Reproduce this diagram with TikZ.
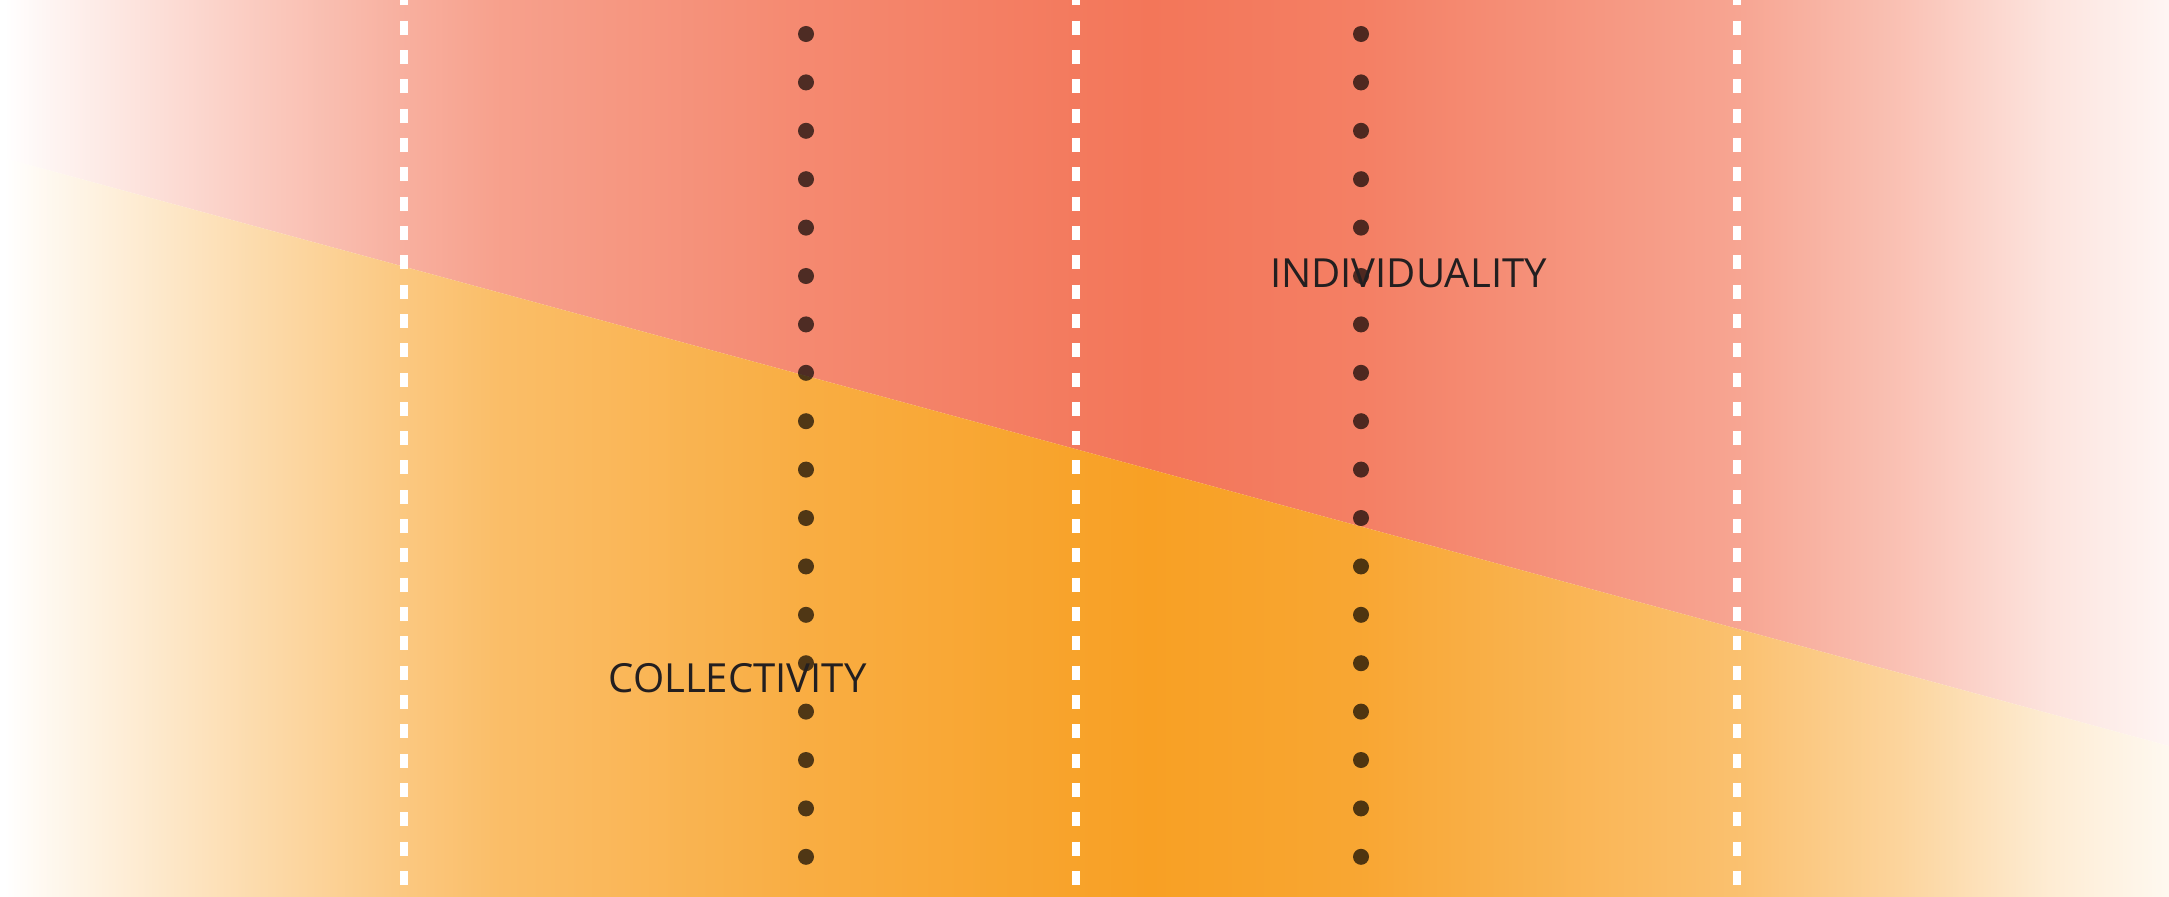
\documentclass[tikz,border=0pt]{standalone}
\usepackage{fontspec}
\setmainfont{Open Sans}
\definecolor{mSalmon}{HTML}{F37659}
\definecolor{mAmber}{HTML}{F8A024}
\definecolor{mInk}{HTML}{231F20}
\pgfdeclarehorizontalshading{salmonfade}{100bp}{color(0bp)=(white); color(25.1bp)=(white);
  color(26.2bp)=(mSalmon!8!white); color(27.3bp)=(mSalmon!15!white); color(30.75bp)=(mSalmon!37!white); color(34.3bp)=(mSalmon!58!white);
  color(36.5bp)=(mSalmon!69!white); color(43.5bp)=(mSalmon!86!white); color(51.5bp)=(mSalmon);
  color(56.5bp)=(mSalmon!93!white); color(65bp)=(mSalmon!66!white); color(68.8bp)=(mSalmon!45!white);
  color(72.25bp)=(mSalmon!20!white); color(75bp)=(mSalmon!7!white); color(100bp)=(mSalmon!7!white)}
\pgfdeclarehorizontalshading{amberfade}{100bp}{color(0bp)=(white); color(25.1bp)=(white);
  color(26.2bp)=(mAmber!8!white); color(27.3bp)=(mAmber!15!white); color(30.75bp)=(mAmber!37!white); color(34.3bp)=(mAmber!58!white);
  color(36.5bp)=(mAmber!69!white); color(43.5bp)=(mAmber!86!white); color(51.5bp)=(mAmber);
  color(56.5bp)=(mAmber!93!white); color(65bp)=(mAmber!66!white); color(68.8bp)=(mAmber!45!white);
  color(72.25bp)=(mAmber!20!white); color(75bp)=(mAmber!7!white); color(100bp)=(mAmber!7!white)}

\begin{document}
\begin{tikzpicture}[x=0.01cm, y=-0.01cm,
  divider/.style={draw=white, line width=0.08cm, dash pattern=on 0.14cm off 0.153cm, dash phase=0.086cm},
  bead/.style={fill=black, fill opacity=0.68},
  tag/.style={font=\fontsize{11.4}{13}\selectfont, text=mInk, inner sep=0pt, anchor=base}]
\useasboundingbox (0,0) rectangle (2169,897);
\shade[shading=salmonfade] (0,0) -- (2169,0) -- (2169,746) -- (0,157) -- cycle;
\shade[shading=amberfade] (0,157) -- (2169,746) -- (2169,897) -- (0,897) -- cycle;
\foreach \x in {404,1076,1737}
  \draw[divider] (\x,0) -- (\x,884.5);
\foreach \x in {806,1361}
  \foreach \i in {0,...,17}
    \fill[bead] (\x,34+48.4*\i) circle[radius=0.08cm];
\node[tag] (indiv) at (1408.5,287) {INDIVIDUALITY};
\node[tag] (collect) at (737.5,692) {COLLECTIVITY};
\end{tikzpicture}
\end{document}
